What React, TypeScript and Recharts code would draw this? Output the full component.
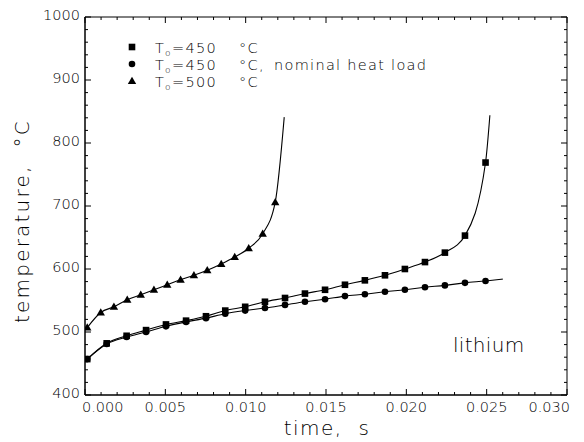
import React from 'react'
import { ComposedChart, Line, XAxis, YAxis, ReferenceArea } from 'recharts'

// time (s) and temperature (°C)
const squareTime = [0.00014, 0.00135, 0.00259, 0.0038, 0.00504, 0.00629, 0.00753, 0.00873, 0.00997, 0.0112, 0.01245, 0.01369, 0.01494, 0.01618, 0.01742, 0.01867, 0.01991, 0.02116, 0.0224, 0.02365, 0.02493]
const squareTemp = [457, 482, 494, 503, 512, 518, 525, 534, 540, 548, 554, 561, 567, 575, 582, 590, 600, 611, 626, 653, 769]
const squareEnd = [0.0252, 844]

const circleTime = [0.00014, 0.00135, 0.00259, 0.0038, 0.00504, 0.00629, 0.00753, 0.00873, 0.00997, 0.0112, 0.01245, 0.01369, 0.01494, 0.01618, 0.01742, 0.01867, 0.01991, 0.02116, 0.0224, 0.02365, 0.02493]
const circleTemp = [457, 481, 492, 500, 509, 516, 522, 529, 534, 538, 543, 548, 552, 557, 560, 564, 567, 571, 574, 578, 581]
const circleEnd = [0.026, 584]

const triangleTime = [0.00014, 0.00098, 0.0018, 0.00263, 0.00347, 0.00429, 0.00512, 0.00595, 0.00678, 0.00761, 0.00848, 0.00932, 0.01019, 0.01106, 0.01184]
const triangleTemp = [507, 531, 540, 551, 559, 567, 575, 583, 590, 598, 608, 619, 633, 656, 706]
const triangleEnd = [0.0124, 841]

const xLabels = ['0.000', '0.005', '0.010', '0.015', '0.020', '0.025', '0.030']
const yLabels = ['400', '500', '600', '700', '800', '900', '1000']

// minor ticks every 1 ms and every 20 °C, labels on every 5th
const xTicks = Array.from({ length: 31 }, (_, i) => i / 1000)
const yTicks = Array.from({ length: 31 }, (_, i) => 400 + i * 20)

const W = 584
const H = 442
const PLOT_TOP = 17
const PLOT_LEFT = 85
const PLOT_RIGHT = 567
const FONT = '"DejaVu Sans", sans-serif'
const INK = '#000'

function buildSeries(times: number[], temps: number[], end: number[]) {
  const rows = times.map((t, i) => ({ t, T: temps[i], mark: true }))
  rows.push({ t: end[0], T: end[1], mark: false })
  return rows
}

const squares = buildSeries(squareTime, squareTemp, squareEnd)
const circles = buildSeries(circleTime, circleTemp, circleEnd)
const triangles = buildSeries(triangleTime, triangleTemp, triangleEnd)

type Shape = 'square' | 'circle' | 'triangle'

function Marker({ shape, cx, cy }: { shape: Shape; cx: number; cy: number }) {
  if (shape === 'square') return <rect x={cx - 3.3} y={cy - 3.3} width={6.6} height={6.6} fill={INK} />
  if (shape === 'circle') return <circle cx={cx} cy={cy} r={3.3} fill={INK} />
  return <polygon points={`${cx},${cy - 4.3} ${cx + 4.2},${cy + 3} ${cx - 4.2},${cy + 3}`} fill={INK} />
}

const makeDot = (shape: Shape) => (props: any) => {
  const { cx, cy, payload, index } = props
  if (!payload?.mark || cx == null) return <g key={`${shape}-${index}`} />
  return (
    <g key={`${shape}-${index}`}>
      <Marker shape={shape} cx={cx} cy={cy} />
    </g>
  )
}

function XTick(props: any) {
  const { x, y, index } = props
  const major = index % 5 === 0
  const len = major ? 6 : 3
  const label = major ? xLabels[index / 5] : null
  let anchor: 'start' | 'middle' | 'end' = 'middle'
  let tx = x
  if (index === 0) { anchor = 'start'; tx = x - 3 }
  if (index === 30) { anchor = 'end'; tx = x + 3 }
  return (
    <g>
      <line x1={x} y1={y} x2={x} y2={y - len} stroke={INK} />
      <line x1={x} y1={PLOT_TOP} x2={x} y2={PLOT_TOP + len} stroke={INK} />
      {label && (
        <text x={tx} y={y + 17} textAnchor={anchor} fontSize={14.5} fontFamily={FONT} fontWeight={200} fill={INK}>
          {label}
        </text>
      )}
    </g>
  )
}

function YTick(props: any) {
  const { x, y, index } = props
  const major = index % 5 === 0
  const len = major ? 6 : 3
  const label = major ? yLabels[index / 5] : null
  return (
    <g>
      <line x1={x} y1={y} x2={x + len} y2={y} stroke={INK} />
      <line x1={PLOT_RIGHT} y1={y} x2={PLOT_RIGHT - len} y2={y} stroke={INK} />
      {label && (
        <text x={x - 5} y={y + 3} textAnchor="end" fontSize={14.5} fontFamily={FONT} fontWeight={200} fill={INK}>
          {label}
        </text>
      )}
    </g>
  )
}

function LegendRow({ shape, y, value, note }: { shape: Shape; y: number; value: string; note?: string }) {
  return (
    <g>
      <Marker shape={shape} cx={132} cy={y - 6} />
      <text y={y} fontSize={14.5} fontFamily={FONT} fontWeight={200} fill={INK} letterSpacing={1.3} style={{ whiteSpace: 'pre' }}>
        <tspan x={155}>T</tspan>
        <tspan x={165} dy={3} fontSize={9}>o</tspan>
        <tspan x={172} dy={-3}>{`=${value}`}</tspan>
        <tspan x={239}>{note ? '°C,' : '°C'}</tspan>
        {note && <tspan x={274}>{note}</tspan>}
      </text>
    </g>
  )
}

export default function App() {
  return (
    <div style={{ position: 'absolute', left: 0, top: 0, width: W, height: H, background: '#fff' }}>
      <ComposedChart width={W} height={H} margin={{ top: PLOT_TOP, right: W - PLOT_RIGHT, bottom: 0, left: PLOT_LEFT - 60 }}>
        <XAxis
          dataKey="t"
          type="number"
          domain={[0, 0.03]}
          allowDataOverflow
          ticks={xTicks}
          interval={0}
          tickSize={0}
          tickMargin={0}
          tickLine={false}
          tick={<XTick />}
          axisLine={{ stroke: INK }}
          height={47}
        />
        <YAxis
          dataKey="T"
          type="number"
          domain={[400, 1000]}
          allowDataOverflow
          ticks={yTicks}
          interval={0}
          tickSize={0}
          tickMargin={0}
          tickLine={false}
          tick={<YTick />}
          axisLine={{ stroke: INK }}
          width={60}
        />
        <ReferenceArea x1={0} x2={0.03} y1={400} y2={1000} fill="none" stroke={INK} strokeWidth={1} />
        <Line data={squares} dataKey="T" type="monotone" stroke={INK} strokeWidth={1.1} dot={makeDot('square')} activeDot={false} isAnimationActive={false} />
        <Line data={circles} dataKey="T" type="monotone" stroke={INK} strokeWidth={1.1} dot={makeDot('circle')} activeDot={false} isAnimationActive={false} />
        <Line data={triangles} dataKey="T" type="monotone" stroke={INK} strokeWidth={1.1} dot={makeDot('triangle')} activeDot={false} isAnimationActive={false} />
      </ComposedChart>
      <svg width={W} height={H} style={{ position: 'absolute', left: 0, top: 0, pointerEvents: 'none' }}>
        <LegendRow shape="square" y={53} value="450" />
        <LegendRow shape="circle" y={70} value="450" note="nominal heat load" />
        <LegendRow shape="triangle" y={87} value="500" />
        <text x={453} y={352} fontSize={20} fontFamily={FONT} fontWeight={200} fill={INK} letterSpacing={0.3}>
          lithium
        </text>
        <text x={327} y={435} textAnchor="middle" fontSize={20} fontFamily={FONT} fontWeight={200} fill={INK} letterSpacing={1.5} style={{ whiteSpace: 'pre' }}>
          {'time,  s'}
        </text>
        <text transform="translate(29,221) rotate(-90)" textAnchor="middle" fontSize={20} fontFamily={FONT} fontWeight={200} fill={INK} letterSpacing={2.2} style={{ whiteSpace: 'pre' }}>
          {'temperature,  °C'}
        </text>
      </svg>
    </div>
  )
}
